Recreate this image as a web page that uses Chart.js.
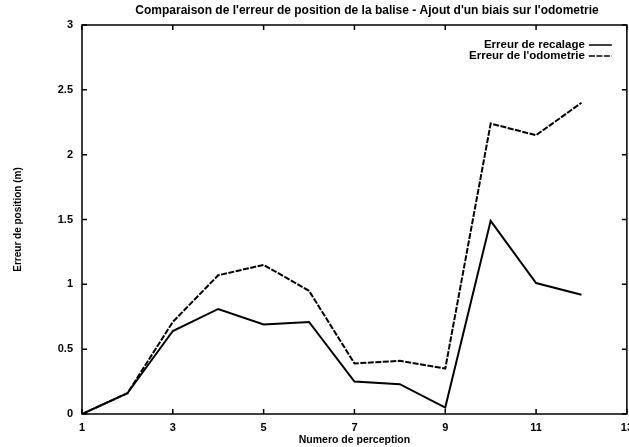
<!DOCTYPE html>
<html>
<head>
<meta charset="utf-8">
<script src="https://cdn.jsdelivr.net/npm/chart.js@4/dist/chart.umd.min.js"></script>
<style>
  html, body { margin: 0; padding: 0; background: #fff; overflow: hidden; }
  #wrap { width: 640px; height: 447px; }
</style>
</head>
<body>
<div id="wrap"><canvas id="c"></canvas></div>
<script>
const perceptions = [1, 2, 3, 4, 5, 6, 7, 8, 9, 10, 11, 12];
const erreurRecalage = [0, 0.16, 0.64, 0.81, 0.69, 0.71, 0.25, 0.23, 0.05, 1.49, 1.01, 0.92];
const erreurOdometrie = [0, 0.16, 0.71, 1.07, 1.15, 0.95, 0.39, 0.41, 0.35, 2.24, 2.15, 2.40];
const xTicks = [1, 3, 5, 7, 9, 11, 13];
const yTicks = [0, 0.5, 1, 1.5, 2, 2.5, 3];
const chartTitle = "Comparaison de l'erreur de position de la balise - Ajout d'un biais sur l'odometrie";

const FONT = "'Liberation Sans', Arial, sans-serif";
const toPoints = (vals) => vals.map((v, i) => ({ x: perceptions[i], y: v }));

// gnuplot style: frame, inward ticks on all four sides, key top right, title
const gnuplotFrame = {
  id: "gnuplotFrame",
  afterDatasetsDraw(chart) {
    const { ctx, chartArea: a, scales } = chart;
    const x = scales.x, y = scales.y;
    ctx.save();
    ctx.strokeStyle = "#000";
    ctx.lineWidth = 1.5;
    ctx.setLineDash([]);
    ctx.strokeRect(a.left, a.top, a.right - a.left, a.bottom - a.top);
    ctx.beginPath();
    x.ticks.forEach((t) => {
      const px = x.getPixelForValue(t.value);
      ctx.moveTo(px, a.bottom); ctx.lineTo(px, a.bottom - 5);
      ctx.moveTo(px, a.top); ctx.lineTo(px, a.top + 5);
    });
    y.ticks.forEach((t) => {
      const py = y.getPixelForValue(t.value);
      ctx.moveTo(a.left, py); ctx.lineTo(a.left + 5, py);
      ctx.moveTo(a.right, py); ctx.lineTo(a.right - 5, py);
    });
    ctx.stroke();

    ctx.fillStyle = "#000";
    ctx.textBaseline = "middle";

    // title (gnuplot puts it a bit right of centre)
    ctx.font = "bold 12px " + FONT;
    ctx.textAlign = "center";
    ctx.fillText(chartTitle, 367, 11);

    // key
    ctx.font = "bold 11.5px " + FONT;
    ctx.textAlign = "right";
    chart.data.datasets.forEach((ds, i) => {
      const ly = a.top + 20 + i * 11;
      ctx.fillText(ds.label, a.right - 42, ly);
      ctx.setLineDash(ds.borderDash || []);
      ctx.lineWidth = 1.5;
      ctx.beginPath();
      ctx.moveTo(a.right - 38, ly);
      ctx.lineTo(a.right - 15, ly);
      ctx.stroke();
    });
    ctx.restore();
  },
};

new Chart(document.getElementById("c"), {
  type: "line",
  data: {
    datasets: [
      {
        label: "Erreur de recalage",
        data: toPoints(erreurRecalage),
        borderColor: "#000",
        borderWidth: 2,
        pointRadius: 0,
        tension: 0,
      },
      {
        label: "Erreur de l'odometrie",
        data: toPoints(erreurOdometrie),
        borderColor: "#000",
        borderWidth: 2,
        borderDash: [6, 1.5],
        pointRadius: 0,
        tension: 0,
      },
    ],
  },
  options: {
    animation: false,
    responsive: true,
    maintainAspectRatio: false,
    layout: { padding: { left: 0, right: 13, top: 25, bottom: 0 } },
    scales: {
      x: {
        type: "linear",
        min: 1,
        max: 13,
        afterBuildTicks: (s) => { s.ticks = xTicks.map((v) => ({ value: v })); },
        afterFit: (s) => { s.height = 33; },
        grid: { display: false, drawTicks: false },
        border: { display: false },
        ticks: {
          color: "#000",
          padding: 7,
          font: { family: FONT, size: 11, weight: "bold" },
          callback: (v) => String(v),
        },
        title: {
          display: true,
          text: "Numero de perception",
          color: "#000",
          padding: { top: 0, bottom: 1 },
          font: { family: FONT, size: 10.5, weight: "bold" },
        },
      },
      y: {
        min: 0,
        max: 3,
        afterBuildTicks: (s) => { s.ticks = yTicks.map((v) => ({ value: v })); },
        afterFit: (s) => { s.width = 82; },
        grid: { display: false, drawTicks: false },
        border: { display: false },
        ticks: {
          color: "#000",
          padding: 9,
          font: { family: FONT, size: 11, weight: "bold" },
          callback: (v) => String(v),
        },
        title: {
          display: true,
          text: "Erreur de position (m)",
          color: "#000",
          padding: { top: 12, bottom: 0 },
          font: { family: FONT, size: 10, weight: "bold" },
        },
      },
    },
    plugins: {
      legend: { display: false },
      tooltip: { enabled: false },
      title: { display: false },
    },
  },
  plugins: [gnuplotFrame],
});
</script>
</body>
</html>
